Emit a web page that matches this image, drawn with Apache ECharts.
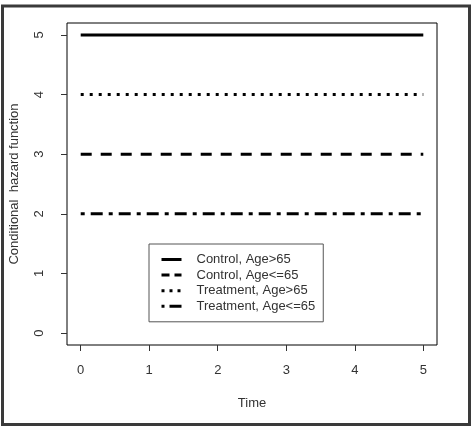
<!DOCTYPE html>
<html><head><meta charset="utf-8">
<script src="https://cdn.jsdelivr.net/npm/echarts@6/dist/echarts.min.js"></script>
<style>
html,body{margin:0;padding:0;background:#fff;}
#c{width:473px;height:428px;}
</style></head><body>
<div id="c"></div>
<script>
const timePoints = [0, 5];
const seriesNames = ['Control, Age>65', 'Control, Age<=65', 'Treatment, Age>65', 'Treatment, Age<=65'];
const controlOld = [5, 5];
const controlYoung = [3, 3];
const treatOld = [4, 4];
const treatYoung = [2, 2];
const xTicks = [0, 1, 2, 3, 4, 5];
const yTicks = [0, 1, 2, 3, 4, 5];

const chart = echarts.init(document.getElementById('c'), null, {renderer: 'canvas'});
const font = 'Liberation Sans, Arial, sans-serif';
const lineTypes = ['solid', [11, 9], [3, 6], [4, 6, 12, 6]];
const legendLineTypes = ['solid', [8, 5], [3, 5], [3, 5, 12, 5]];
const data = [controlOld, controlYoung, treatOld, treatYoung];
const series = seriesNames.map((n, i) => ({
  name: n, type: 'line', symbol: 'none', silent: true,
  data: timePoints.map((t, j) => [t, data[i][j]]),
  lineStyle: {color: '#000', width: 3, type: lineTypes[i], cap: 'butt'},
  itemStyle: {color: '#000'}
}));

chart.setOption({
  animation: false,
  backgroundColor: '#fff',
  graphic: [{type: 'rect', shape: {x: 2.5, y: 6, width: 467, height: 418.5}, style: {fill: 'none', stroke: '#3a3a3a', lineWidth: 3}, z: 100}],
  grid: {left: 67, top: 23, width: 370, height: 322, show: true, borderColor: '#000', borderWidth: 1, backgroundColor: 'transparent', outerBoundsMode: 'none', containLabel: false},
  legend: {
    left: 149, top: 244,
    orient: 'vertical', padding: [9, 8, 9, 11], itemGap: 2.6,
    itemWidth: 20, itemHeight: 13,
    borderColor: '#555', borderWidth: 1,
    data: seriesNames.map((n, i) => ({name: n, lineStyle: {type: legendLineTypes[i], width: 3, color: '#000', cap: 'butt'}})),
    itemStyle: {opacity: 0},
    textStyle: {fontFamily: font, fontSize: 13, color: '#333', padding: [0, 0, 0, 10]},
    selectedMode: false
  },
  xAxis: {
    type: 'value', min: -0.2, max: 5.2,
    axisLine: {show: false, onZero: false},
    splitLine: {show: false},
    axisTick: {show: true, length: 6, customValues: xTicks, lineStyle: {color: '#333'}},
    axisLabel: {customValues: xTicks, margin: 19, fontFamily: font, fontSize: 13, color: '#333'},
    name: 'Time', nameLocation: 'middle', nameGap: 52,
    nameTextStyle: {fontFamily: font, fontSize: 13, color: '#333'}
  },
  yAxis: {
    type: 'value', min: -0.2, max: 5.2,
    axisLine: {show: false, onZero: false},
    splitLine: {show: false},
    axisTick: {show: true, length: 6, customValues: yTicks, lineStyle: {color: '#333'}},
    axisLabel: {customValues: yTicks, rotate: 90, margin: 21, fontFamily: font, fontSize: 13, color: '#333'},
    name: 'Conditional  hazard function', nameLocation: 'middle', nameGap: 46,
    nameTextStyle: {fontFamily: font, fontSize: 13, color: '#333'}
  },
  series: series
});
</script>
</body></html>
